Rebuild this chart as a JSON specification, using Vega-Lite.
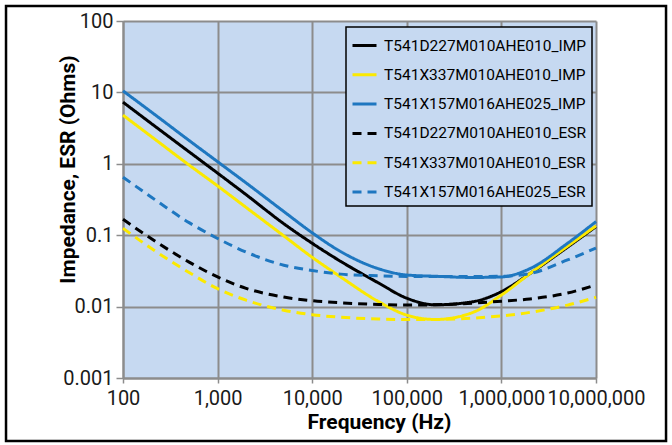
{
  "$schema": "https://vega.github.io/schema/vega-lite/v6.json",
  "width": 473,
  "height": 357,
  "autosize": {"type": "none"},
  "padding": {"left": 123, "top": 21, "right": 76, "bottom": 67},
  "background": "white",
  "data": {"values": [
    {"series": "T541D227M010AHE010_IMP", "f": 100, "z": 7.3},
    {"series": "T541D227M010AHE010_IMP", "f": 200, "z": 3.65},
    {"series": "T541D227M010AHE010_IMP", "f": 500, "z": 1.47},
    {"series": "T541D227M010AHE010_IMP", "f": 1000, "z": 0.74},
    {"series": "T541D227M010AHE010_IMP", "f": 2000, "z": 0.37},
    {"series": "T541D227M010AHE010_IMP", "f": 5000, "z": 0.145},
    {"series": "T541D227M010AHE010_IMP", "f": 10000, "z": 0.077},
    {"series": "T541D227M010AHE010_IMP", "f": 20000, "z": 0.043},
    {"series": "T541D227M010AHE010_IMP", "f": 50000, "z": 0.0215},
    {"series": "T541D227M010AHE010_IMP", "f": 100000, "z": 0.0131},
    {"series": "T541D227M010AHE010_IMP", "f": 200000, "z": 0.0106},
    {"series": "T541D227M010AHE010_IMP", "f": 500000, "z": 0.0117},
    {"series": "T541D227M010AHE010_IMP", "f": 1000000, "z": 0.0162},
    {"series": "T541D227M010AHE010_IMP", "f": 2000000, "z": 0.029},
    {"series": "T541D227M010AHE010_IMP", "f": 5000000, "z": 0.068},
    {"series": "T541D227M010AHE010_IMP", "f": 10000000, "z": 0.132},
    {"series": "T541X337M010AHE010_IMP", "f": 100, "z": 4.8},
    {"series": "T541X337M010AHE010_IMP", "f": 200, "z": 2.4},
    {"series": "T541X337M010AHE010_IMP", "f": 500, "z": 0.96},
    {"series": "T541X337M010AHE010_IMP", "f": 1000, "z": 0.49},
    {"series": "T541X337M010AHE010_IMP", "f": 2000, "z": 0.245},
    {"series": "T541X337M010AHE010_IMP", "f": 5000, "z": 0.098},
    {"series": "T541X337M010AHE010_IMP", "f": 10000, "z": 0.049},
    {"series": "T541X337M010AHE010_IMP", "f": 20000, "z": 0.026},
    {"series": "T541X337M010AHE010_IMP", "f": 50000, "z": 0.0118},
    {"series": "T541X337M010AHE010_IMP", "f": 100000, "z": 0.0076},
    {"series": "T541X337M010AHE010_IMP", "f": 200000, "z": 0.0066},
    {"series": "T541X337M010AHE010_IMP", "f": 500000, "z": 0.0083},
    {"series": "T541X337M010AHE010_IMP", "f": 1000000, "z": 0.0145},
    {"series": "T541X337M010AHE010_IMP", "f": 2000000, "z": 0.029},
    {"series": "T541X337M010AHE010_IMP", "f": 5000000, "z": 0.07},
    {"series": "T541X337M010AHE010_IMP", "f": 10000000, "z": 0.135},
    {"series": "T541X157M016AHE025_IMP", "f": 100, "z": 10.5},
    {"series": "T541X157M016AHE025_IMP", "f": 200, "z": 5.3},
    {"series": "T541X157M016AHE025_IMP", "f": 500, "z": 2.12},
    {"series": "T541X157M016AHE025_IMP", "f": 1000, "z": 1.07},
    {"series": "T541X157M016AHE025_IMP", "f": 2000, "z": 0.54},
    {"series": "T541X157M016AHE025_IMP", "f": 5000, "z": 0.215},
    {"series": "T541X157M016AHE025_IMP", "f": 10000, "z": 0.108},
    {"series": "T541X157M016AHE025_IMP", "f": 20000, "z": 0.059},
    {"series": "T541X157M016AHE025_IMP", "f": 50000, "z": 0.034},
    {"series": "T541X157M016AHE025_IMP", "f": 100000, "z": 0.0277},
    {"series": "T541X157M016AHE025_IMP", "f": 200000, "z": 0.0266},
    {"series": "T541X157M016AHE025_IMP", "f": 500000, "z": 0.0256},
    {"series": "T541X157M016AHE025_IMP", "f": 1000000, "z": 0.026},
    {"series": "T541X157M016AHE025_IMP", "f": 2000000, "z": 0.034},
    {"series": "T541X157M016AHE025_IMP", "f": 5000000, "z": 0.077},
    {"series": "T541X157M016AHE025_IMP", "f": 10000000, "z": 0.155},
    {"series": "T541D227M010AHE010_ESR", "f": 100, "z": 0.167},
    {"series": "T541D227M010AHE010_ESR", "f": 200, "z": 0.089},
    {"series": "T541D227M010AHE010_ESR", "f": 500, "z": 0.042},
    {"series": "T541D227M010AHE010_ESR", "f": 1000, "z": 0.026},
    {"series": "T541D227M010AHE010_ESR", "f": 2000, "z": 0.018},
    {"series": "T541D227M010AHE010_ESR", "f": 5000, "z": 0.0136},
    {"series": "T541D227M010AHE010_ESR", "f": 10000, "z": 0.0121},
    {"series": "T541D227M010AHE010_ESR", "f": 20000, "z": 0.0113},
    {"series": "T541D227M010AHE010_ESR", "f": 50000, "z": 0.0107},
    {"series": "T541D227M010AHE010_ESR", "f": 100000, "z": 0.0105},
    {"series": "T541D227M010AHE010_ESR", "f": 200000, "z": 0.0106},
    {"series": "T541D227M010AHE010_ESR", "f": 500000, "z": 0.0112},
    {"series": "T541D227M010AHE010_ESR", "f": 1000000, "z": 0.0119},
    {"series": "T541D227M010AHE010_ESR", "f": 2000000, "z": 0.0128},
    {"series": "T541D227M010AHE010_ESR", "f": 5000000, "z": 0.0155},
    {"series": "T541D227M010AHE010_ESR", "f": 10000000, "z": 0.0201},
    {"series": "T541X337M010AHE010_ESR", "f": 100, "z": 0.125},
    {"series": "T541X337M010AHE010_ESR", "f": 200, "z": 0.065},
    {"series": "T541X337M010AHE010_ESR", "f": 500, "z": 0.03},
    {"series": "T541X337M010AHE010_ESR", "f": 1000, "z": 0.0178},
    {"series": "T541X337M010AHE010_ESR", "f": 2000, "z": 0.0123},
    {"series": "T541X337M010AHE010_ESR", "f": 5000, "z": 0.0089},
    {"series": "T541X337M010AHE010_ESR", "f": 10000, "z": 0.0077},
    {"series": "T541X337M010AHE010_ESR", "f": 20000, "z": 0.0071},
    {"series": "T541X337M010AHE010_ESR", "f": 50000, "z": 0.0067},
    {"series": "T541X337M010AHE010_ESR", "f": 100000, "z": 0.0066},
    {"series": "T541X337M010AHE010_ESR", "f": 200000, "z": 0.0066},
    {"series": "T541X337M010AHE010_ESR", "f": 500000, "z": 0.0069},
    {"series": "T541X337M010AHE010_ESR", "f": 1000000, "z": 0.0074},
    {"series": "T541X337M010AHE010_ESR", "f": 2000000, "z": 0.0083},
    {"series": "T541X337M010AHE010_ESR", "f": 5000000, "z": 0.0105},
    {"series": "T541X337M010AHE010_ESR", "f": 10000000, "z": 0.0135},
    {"series": "T541X157M016AHE025_ESR", "f": 100, "z": 0.65},
    {"series": "T541X157M016AHE025_ESR", "f": 200, "z": 0.34},
    {"series": "T541X157M016AHE025_ESR", "f": 500, "z": 0.15},
    {"series": "T541X157M016AHE025_ESR", "f": 1000, "z": 0.09},
    {"series": "T541X157M016AHE025_ESR", "f": 2000, "z": 0.058},
    {"series": "T541X157M016AHE025_ESR", "f": 5000, "z": 0.038},
    {"series": "T541X157M016AHE025_ESR", "f": 10000, "z": 0.032},
    {"series": "T541X157M016AHE025_ESR", "f": 20000, "z": 0.0285},
    {"series": "T541X157M016AHE025_ESR", "f": 50000, "z": 0.027},
    {"series": "T541X157M016AHE025_ESR", "f": 100000, "z": 0.0265},
    {"series": "T541X157M016AHE025_ESR", "f": 200000, "z": 0.0264},
    {"series": "T541X157M016AHE025_ESR", "f": 500000, "z": 0.0264},
    {"series": "T541X157M016AHE025_ESR", "f": 1000000, "z": 0.0266},
    {"series": "T541X157M016AHE025_ESR", "f": 2000000, "z": 0.029},
    {"series": "T541X157M016AHE025_ESR", "f": 5000000, "z": 0.045},
    {"series": "T541X157M016AHE025_ESR", "f": 10000000, "z": 0.066}
  ]},
  "layer": [
    {
      "mark": {"type": "line", "strokeWidth": 3, "interpolate": "monotone"},
      "encoding": {
        "x": {
          "field": "f", "type": "quantitative", "title": "Frequency (Hz)",
          "scale": {"type": "log", "domain": [100, 10000000], "nice": false},
          "axis": {
            "values": [100, 1000, 10000, 100000, 1000000, 10000000],
            "format": ",",
            "tickSize": 5,
            "labelPadding": 5,
            "labelFlush": false,
            "labelOverlap": false,
            "titleX": 256,
            "titleY": 50,
            "titleBaseline": "alphabetic",
            "encode": {"labels": {"update": {"dx": {"signal": "datum.value <= 100 ? 4 : datum.value <= 1000 ? -8 : datum.value <= 10000 ? -12 : datum.value <= 100000 ? -15 : datum.value <= 1000000 ? -16 : -8"}}}}
          }
        },
        "y": {
          "field": "z", "type": "quantitative", "title": "Impedance, ESR (Ohms)",
          "scale": {"type": "log", "domain": [0.001, 100], "nice": false},
          "axis": {
            "values": [0.001, 0.01, 0.1, 1, 10, 100],
            "format": "~g",
            "tickSize": 7,
            "labelPadding": 3,
            "titleX": -49,
            "titleY": 148,
            "titleAngle": 270,
            "titleBaseline": "alphabetic"
          }
        },
        "color": {
          "field": "series", "type": "nominal", "title": null,
          "scale": {
            "domain": ["T541D227M010AHE010_IMP", "T541X337M010AHE010_IMP", "T541X157M016AHE025_IMP", "T541D227M010AHE010_ESR", "T541X337M010AHE010_ESR", "T541X157M016AHE025_ESR"],
            "range": ["#000000", "#fbe900", "#1e77c0", "#000000", "#fbe900", "#1e77c0"]
          }
        },
        "strokeDash": {
          "field": "series", "type": "nominal", "title": null,
          "scale": {
            "domain": ["T541D227M010AHE010_IMP", "T541X337M010AHE010_IMP", "T541X157M016AHE025_IMP", "T541D227M010AHE010_ESR", "T541X337M010AHE010_ESR", "T541X157M016AHE025_ESR"],
            "range": [[1, 0], [1, 0], [1, 0], [9, 6], [9, 6], [9, 6]]
          }
        }
      }
    },
    {
      "data": {"values": [{}]},
      "mark": {"type": "rect", "filled": false, "stroke": "#000000", "strokeWidth": 2.5, "clip": false},
      "encoding": {
        "x": {"datum": 5.8, "type": "quantitative", "scale": {"type": "log", "domain": [100, 10000000], "nice": false}},
        "x2": {"datum": 55000000},
        "y": {"datum": 162, "type": "quantitative", "scale": {"type": "log", "domain": [0.001, 100], "nice": false}},
        "y2": {"datum": 0.000131}
      }
    }
  ],
  "config": {
    "view": {"fill": "#c6d9f1", "stroke": null},
    "axis": {
      "grid": true,
      "gridColor": "#8c8c8c",
      "gridWidth": 2,
      "gridOpacity": 1,
      "domainColor": "#8c8c8c",
      "domainWidth": 2,
      "tickColor": "#8c8c8c",
      "tickWidth": 1.5,
      "labelFont": "Roboto",
      "labelFontSize": 20,
      "labelColor": "#1a1a1a",
      "titleFont": "Roboto",
      "titleFontSize": 21,
      "titleFontWeight": "bold",
      "titleColor": "#000000"
    },
    "legend": {
      "orient": "none",
      "legendX": 223,
      "legendY": 6,
      "padding": 5,
      "rowPadding": 7.3,
      "fillColor": "#c6d9f1",
      "strokeColor": "#000000",
      "strokeWidth": 1.5,
      "symbolType": "stroke",
      "symbolSize": 576,
      "symbolStrokeWidth": 3,
      "labelFont": "Roboto",
      "labelFontSize": 15.5,
      "labelColor": "#000000",
      "labelOffset": 6,
      "labelLimit": 400
    }
  }
}
